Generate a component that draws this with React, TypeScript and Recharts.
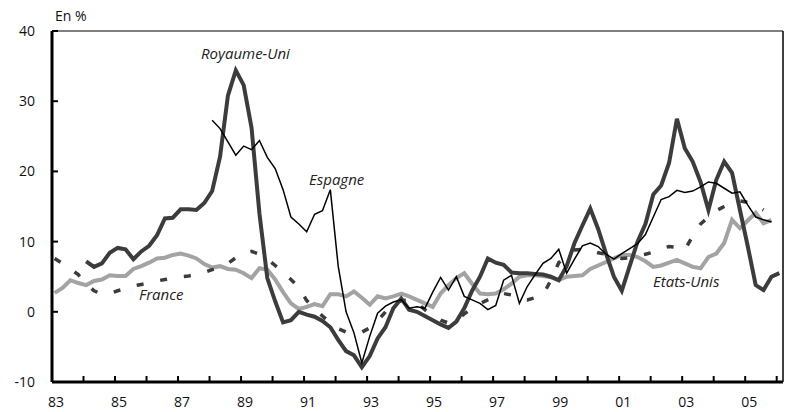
import { LineChart, Line, XAxis, YAxis, ReferenceLine } from "recharts";

// Quarterly growth rates (en %), 1983Q1 .. 2006Q1, one value per quarter
const firstYear = 1983;

const royaumeUni = [
  null, null, null, null, 7.2, 6.4, 6.9, 8.4, 9.1, 8.9, 7.5, 8.6, 9.4, 10.9, 13.3, 13.4,
  14.6, 14.6, 14.5, 15.5, 17.2, 22.1, 30.8, 34.4, 32.3, 26.2, 14.0, 4.8, 1.5, -1.5, -1.2, 0.0,
  -0.4, -0.7, -1.3, -2.2, -4.0, -5.6, -6.2, -7.9, -6.3, -3.8, -2.2, 0.5, 1.9, 0.3, 0.0, -0.6,
  -1.2, -1.8, -2.3, -1.4, 0.5, 3.0, 5.0, 7.6, 7.0, 6.7, 5.6, 5.5, 5.5, 5.4, 5.3, 5.0,
  4.5, 6.5, 9.8, 12.3, 14.7, 11.8, 8.3, 5.0, 3.0, 6.5, 10.0, 12.5, 16.7, 18.0, 21.2, 27.5,
  23.3, 21.4, 18.5, 14.5, 18.8, 21.4, 19.8, 14.5, 9.3, 3.8, 3.1, 5.0, 5.5,
];

const espagne = [
  null, null, null, null, null, null, null, null, null, null, null, null, null, null, null, null,
  null, null, null, null, 27.3, 26.1, 24.2, 22.3, 23.6, 23.1, 24.4, 22.0, 20.4, 17.4, 13.5, 12.5,
  11.4, 13.9, 14.4, 17.4, 6.5, 0.0, -3.0, -7.3, -3.5, -0.2, 0.8, 1.4, 1.7, 0.5, 0.7, 0.5,
  2.8, 4.9, 3.1, 5.0, 2.2, 1.7, 1.2, 0.3, 0.9, 4.5, 5.2, 1.2, 3.6, 5.3, 6.9, 7.6,
  8.9, 5.5, 7.5, 9.4, 9.8, 9.3, 8.2, 7.5, 8.3, 9.0, 9.7, 11.0, 13.5, 16.0, 16.4, 17.3,
  17.0, 17.2, 17.8, 18.5, 18.3, 17.6, 16.9, 17.1, 15.2, 13.5, 13.1, 12.8, null,
];

const france = [
  7.6, 6.9, 6.1, 5.3, 4.0, 3.0, 2.5, 2.6, 3.0, 3.3, 3.7, 3.9, 4.1, 4.4, 4.6, 4.8,
  5.0, 5.1, 5.3, 5.6, 6.0, 6.4, 6.9, 7.7, 8.4, 8.6, 8.2, 7.5, 6.6, 5.6, 4.6, 3.5,
  1.6, 0.5, -0.6, -1.6, -2.4, -2.9, -3.1, -2.9, -2.3, -1.3, 0.0, 0.9, 1.6, 1.7, 1.3, 0.3,
  -0.5, -1.2, -1.6, -1.2, -0.3, 0.5, 1.2, 1.7, 2.2, 2.6, 2.4, 1.8, 1.7, 2.0, 2.4, 4.5,
  7.0, 8.0, 8.8, 8.9, 8.7, 8.4, 8.2, 7.9, 7.6, 7.7, 8.0, 8.2, 8.5, 9.0, 9.3, 9.2,
  8.8, 10.8, 12.5, 13.5, 14.4, 15.0, 15.5, 15.8, 15.6, 15.2, 14.5, null, null,
];

const etatsUnis = [
  2.7, 3.4, 4.5, 4.1, 3.8, 4.4, 4.6, 5.2, 5.1, 5.1, 6.1, 6.5, 7.0, 7.6, 7.7, 8.1,
  8.3, 8.0, 7.6, 6.8, 6.3, 6.5, 6.1, 6.0, 5.5, 4.8, 6.2, 6.0, 4.6, 2.8, 1.2, 0.4,
  0.7, 1.1, 0.8, 2.5, 2.5, 2.2, 2.9, 2.0, 1.0, 2.2, 1.9, 2.2, 2.6, 2.2, 1.7, 1.2,
  0.7, 2.6, 3.8, 4.8, 5.5, 4.0, 2.6, 2.5, 2.6, 3.2, 4.0, 5.0, 5.2, 5.2, 5.1, 4.9,
  4.5, 5.0, 5.1, 5.2, 6.1, 6.6, 7.1, 7.6, 8.1, 8.1, 7.8, 7.2, 6.4, 6.6, 7.0, 7.4,
  6.9, 6.4, 6.2, 7.8, 8.3, 9.8, 13.1, 11.9, 13.0, 14.1, 12.6, 13.1, null,
];

const yearTicks = [
  1983, 1984, 1985, 1986, 1987, 1988, 1989, 1990, 1991, 1992, 1993, 1994,
  1995, 1996, 1997, 1998, 1999, 2000, 2001, 2002, 2003, 2004, 2005, 2006,
];
const labelledYears = [1983, 1985, 1987, 1989, 1991, 1993, 1995, 1997, 1999, 2001, 2003, 2005];
const valueTicks = [-10, 0, 10, 20, 30, 40];

// each quarter is placed at its middle month
const rows = royaumeUni.map((_, i) => ({
  t: firstYear + i / 4 + 1 / 12,
  uk: royaumeUni[i],
  es: espagne[i],
  fr: france[i],
  us: etatsUnis[i],
}));

const FONT = "'Open Sans', sans-serif";

function XTick(props: any) {
  const { x, y, payload } = props;
  const year = payload.value as number;
  const show = labelledYears.includes(year);
  return (
    <g>
      <line x1={x} x2={x} y1={y} y2={y - 6} stroke="#000" strokeWidth={2} />
      {show && (
        <text x={x + 4} y={y + 25} textAnchor="middle" fontFamily={FONT} fontSize={14} fill="#111">
          {String(year % 100).padStart(2, "0")}
        </text>
      )}
    </g>
  );
}

function YTick(props: any) {
  const { x, y, payload } = props;
  return (
    <g>
      <line x1={x} x2={x + 6} y1={y} y2={y} stroke="#000" strokeWidth={2} />
      <text x={x - 17} y={y} dy="0.36em" textAnchor="end" fontFamily={FONT} fontSize={14} fill="#111">
        {payload.value}
      </text>
    </g>
  );
}

const seriesLabel = { fontFamily: FONT, fontSize: 15, fontStyle: "italic", fill: "#222" } as const;

export default function App() {
  return (
    <div style={{ position: "relative", width: 786, height: 412, background: "#fff" }}>
      <style>{"body{margin:0}"}</style>
      <LineChart width={786} height={412} data={rows} margin={{ top: 31, right: 3, bottom: 0, left: 8 }}>
        <XAxis
          type="number"
          dataKey="t"
          domain={[1983, 2006.2]}
          ticks={yearTicks}
          interval={0}
          height={30}
          tickSize={0}
          tickMargin={0}
          tickLine={false}
          axisLine={{ stroke: "#000", strokeWidth: 3 }}
          tick={XTick}
        />
        <YAxis
          type="number"
          domain={[-10, 40]}
          ticks={valueTicks}
          interval={0}
          width={44}
          tickSize={0}
          tickMargin={0}
          tickLine={false}
          axisLine={{ stroke: "#000", strokeWidth: 3 }}
          tick={YTick}
        />
        <ReferenceLine y={40} stroke="#000" strokeWidth={1.2} />
        <ReferenceLine x={2006.2} stroke="#000" strokeWidth={1.5} />
        <Line dataKey="us" stroke="#a3a3a3" strokeWidth={4} dot={false} isAnimationActive={false} />
        <Line dataKey="fr" stroke="#3c3c3c" strokeWidth={3.5} strokeDasharray="7 17" dot={false} isAnimationActive={false} />
        <Line dataKey="uk" stroke="#3c3c3c" strokeWidth={4} dot={false} isAnimationActive={false} />
        <Line dataKey="es" stroke="#000" strokeWidth={1.5} dot={false} isAnimationActive={false} />
      </LineChart>
      <svg width={786} height={412} style={{ position: "absolute", left: 0, top: 0, pointerEvents: "none" }}>
        <text x={55} y={21} fontFamily={FONT} fontSize={14} fill="#111">En %</text>
        <text x={201} y={59} {...seriesLabel}>Royaume-Uni</text>
        <text x={309} y={185} {...seriesLabel}>Espagne</text>
        <text x={139} y={300} {...seriesLabel}>France</text>
        <text x={653} y={287} {...seriesLabel}>Etats-Unis</text>
      </svg>
    </div>
  );
}
